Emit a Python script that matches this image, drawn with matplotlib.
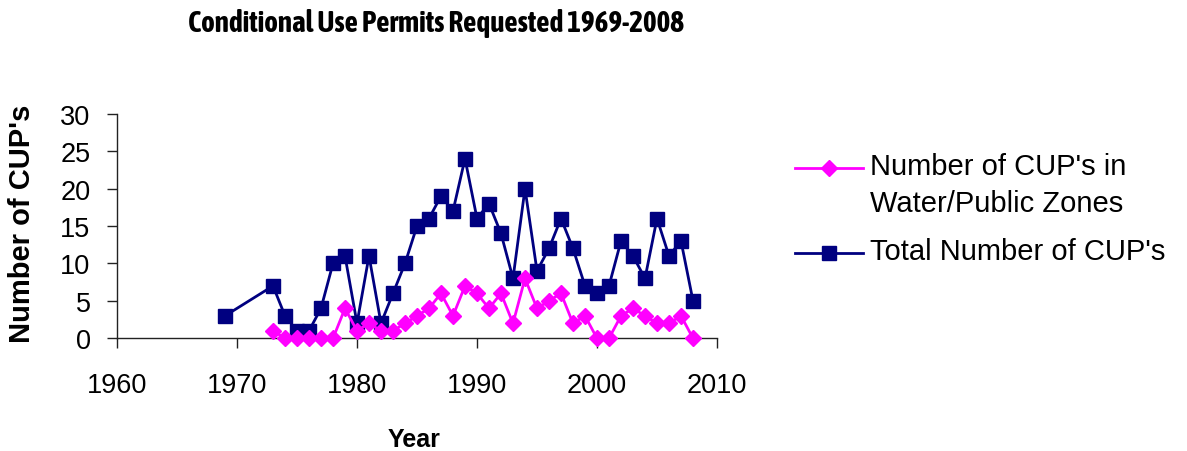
import matplotlib
matplotlib.use("Agg")
import matplotlib.pyplot as plt
from matplotlib.lines import Line2D
import matplotlib.font_manager as fm

years_total = [1969, 1973, 1974, 1975, 1976, 1977, 1978, 1979, 1980, 1981, 1982, 1983,
               1984, 1985, 1986, 1987, 1988, 1989, 1990, 1991, 1992, 1993, 1994, 1995,
               1996, 1997, 1998, 1999, 2000, 2001, 2002, 2003, 2004, 2005, 2006, 2007, 2008]
total_cups = [3, 7, 3, 1, 1, 4, 10, 11, 2, 11, 2, 6,
              10, 15, 16, 19, 17, 24, 16, 18, 14, 8, 20, 9,
              12, 16, 12, 7, 6, 7, 13, 11, 8, 16, 11, 13, 5]

years_water = [1973, 1974, 1975, 1976, 1977, 1978, 1979, 1980, 1981, 1982, 1983,
               1984, 1985, 1986, 1987, 1988, 1989, 1990, 1991, 1992, 1993, 1994, 1995,
               1996, 1997, 1998, 1999, 2000, 2001, 2002, 2003, 2004, 2005, 2006, 2007, 2008]
water_cups = [1, 0, 0, 0, 0, 0, 4, 1, 2, 1, 1,
              2, 3, 4, 6, 3, 7, 6, 4, 6, 2, 8, 4,
              5, 6, 2, 3, 0, 0, 3, 4, 3, 2, 2, 3, 0]

x_ticks = [1960, 1970, 1980, 1990, 2000, 2010]
y_ticks = [0, 5, 10, 15, 20, 25, 30]

title = "Conditional Use Permits Requested 1969-2008"
label_water_1 = "Number of CUP's in"
label_water_2 = "Water/Public Zones"
label_total = "Total Number of CUP's"

plt.rcParams['font.family'] = ['Liberation Sans', 'DejaVu Sans']

# pick a condensed bold face for the title if one is installed
title_font = None
cond_stretch = ('condensed', 'semi-condensed', 'extra-condensed', 'ultra-condensed')
for f in fm.fontManager.ttflist:
    if ('Narrow' in f.name or 'Condensed' in f.name) and f.weight in (700, 'bold'):
        title_font = dict(family=[f.name, 'DejaVu Sans'], fontsize=21)
        break
if title_font is None:
    for f in fm.fontManager.ttflist:
        if f.name == 'DejaVu Sans' and f.stretch in cond_stretch:
            title_font = dict(family=['DejaVu Sans'], fontstretch='condensed', fontsize=18)
            break
if title_font is None:
    title_font = dict(family=['Liberation Sans', 'DejaVu Sans'], fontsize=16.5)

W, H = 1187, 452
fig = plt.figure(figsize=(W / 100, H / 100), dpi=100)
ax = fig.add_axes([117 / W, 1 - 339.3 / H, 600 / W, 224.6 / H])

NAVY = '#000080'
MAG = '#FF00FF'

ax.plot(years_total, total_cups, color=NAVY, lw=2, marker='s', markersize=10,
        markerfacecolor=NAVY, markeredgecolor=NAVY, clip_on=False, zorder=3)
ax.plot(years_water, water_cups, color=MAG, lw=2, marker='D', markersize=8,
        markerfacecolor=MAG, markeredgecolor=MAG, clip_on=False, zorder=4)

ax.set_xlim(1960, 2010)
ax.set_ylim(0, 30)
ax.set_xticks(x_ticks)
ax.set_yticks(y_ticks)
ax.set_xticklabels([str(v) for v in x_ticks])
ax.set_yticklabels([str(v) for v in y_ticks])
for s in ['top', 'right']:
    ax.spines[s].set_visible(False)
for s in ['left', 'bottom']:
    ax.spines[s].set_color('#222222')
    ax.spines[s].set_linewidth(1)
ax.tick_params(axis='both', direction='out', length=7, width=1, color='#222222',
               labelsize=19.5, labelcolor='black')
ax.tick_params(axis='x', pad=17)
ax.tick_params(axis='y', pad=12)

fig.text(436 / W, 1 - 32 / H, title, ha='center', va='baseline',
         fontweight='bold', **title_font)
fig.text(22 / W, 1 - 224 / H, "Number of CUP's", rotation=90, ha='center', va='center',
         fontsize=21, fontweight='bold')
fig.text(414 / W, 1 - 447 / H, "Year", ha='center', va='baseline',
         fontsize=18, fontweight='bold')

# legend (manual, matching reference layout)
def legend_sample(y_px, color, marker, ms):
    fig.add_artist(Line2D([795 / W, 863 / W], [1 - y_px / H, 1 - y_px / H],
                          transform=fig.transFigure, color=color, lw=2))
    fig.add_artist(Line2D([829 / W], [1 - y_px / H], transform=fig.transFigure,
                          color=color, marker=marker, markersize=ms, lw=0))

legend_sample(169, MAG, 'D', 8)
legend_sample(254, NAVY, 's', 10)
fig.text(870 / W, 1 - 175 / H, label_water_1, ha='left', va='baseline', fontsize=21)
fig.text(870 / W, 1 - 212 / H, label_water_2, ha='left', va='baseline', fontsize=21)
fig.text(870 / W, 1 - 260 / H, label_total, ha='left', va='baseline', fontsize=21)

fig.savefig('out.png', dpi=100)
